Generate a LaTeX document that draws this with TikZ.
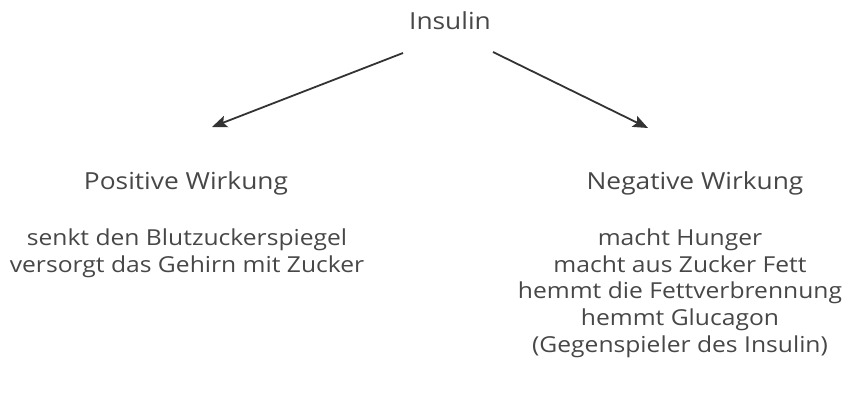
\documentclass[tikz,border=0pt]{standalone}
\usepackage{fontspec}
\setmainfont[FakeStretch=1.12]{Open Sans}
\usetikzlibrary{positioning,arrows.meta}
\definecolor{txtgray}{HTML}{474747}
\definecolor{arrgray}{HTML}{333333}

\begin{document}
\begin{tikzpicture}[x=1pt, y=-1pt,
    txt/.style={text=txtgray, font=\fontsize{22}{26.6}\selectfont, inner sep=0pt, align=center},
    head/.style={txt, font=\fontsize{23.5}{28}\selectfont},
    arr/.style={draw=arrgray, line width=1.8pt, -{Stealth[length=15pt,width=12pt,inset=3pt]}}]
  \useasboundingbox (0,0) rectangle (849,392);
%
  \node[head, anchor=base] (insulin) at (450,29) {Insulin};
%
  \node[head, anchor=base] (pos) at (186,189) {Positive Wirkung};
  \node[head, anchor=base] (neg) at (695,189) {Negative Wirkung};
%
  % base anchor = baseline of the last line
  \node[txt, anchor=base] (posTxt) at (187,272)
    {senkt den Blutzuckerspiegel\\versorgt das Gehirn mit Zucker};
  \node[txt, anchor=base] (negTxt) at (680,352)
    {macht Hunger\\macht aus Zucker Fett\\hemmt die Fettverbrennung\\hemmt Glucagon\\(Gegenspieler des Insulin)};
%
  \coordinate (lStart) at (403,53);
  \coordinate (lEnd)   at (212,127);
  \coordinate (rStart) at (493,52);
  \coordinate (rEnd)   at (648,128);
  \draw[arr] (lStart) -- (lEnd);
  \draw[arr] (rStart) -- (rEnd);
\end{tikzpicture}
\end{document}
